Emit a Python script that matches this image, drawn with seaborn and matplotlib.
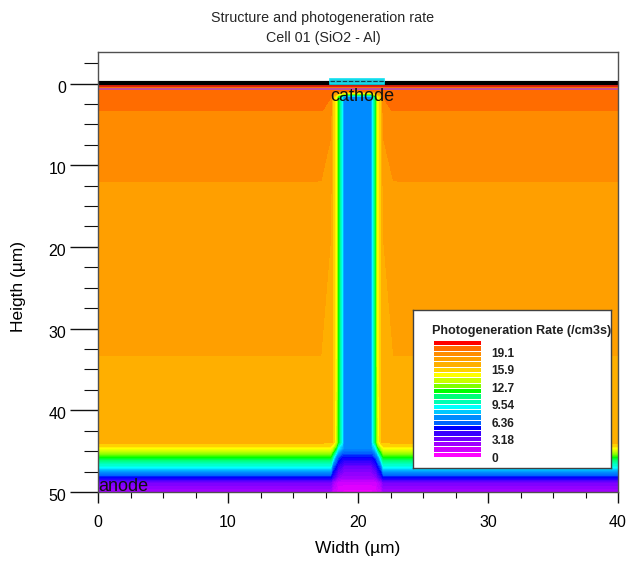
import numpy as np
import matplotlib
matplotlib.use("Agg")
from matplotlib import pyplot as plt
from matplotlib.colors import BoundaryNorm, LinearSegmentedColormap, ListedColormap
from matplotlib.patches import Rectangle
from matplotlib.transforms import ScaledTranslation
import seaborn as sns

# Photogeneration rate, one list per width position
heights = [0.0, 0.9, 1.6, 3.3, 3.4, 11.9, 12.0, 18.0, 33.3, 33.4, 43.9, 44.6, 45.7, 46.9, 48.2, 48.8, 50.0]
rate_far = [21.2, 21.2, 21.2, 21.2, 20.1, 20.1, 19.1, 19.1, 19.1, 18.0, 18.0, 15.9, 12.7, 9.54, 5.3, 3.0, 1.9]
rate_shoulder = [21.2, 21.2, 20.7, 20.1, 20.1, 18.8, 18.8, 18.6, 17.6, 17.6, 17.6, 15.9, 12.7, 9.54, 5.3, 3.0, 1.9]
rate_orange = [21.2, 21.2, 17.5, 17.5, 17.5, 17.5, 17.5, 17.5, 17.5, 17.5, 17.5, 14.8, 11.0, 6.5, 4.2, 2.1, 1.0]
rate_yellow = [21.2, 21.2, 15.9, 15.9, 15.9, 15.9, 15.9, 15.9, 15.9, 15.9, 15.0, 12.7, 7.4, 5.3, 3.18, 1.5, 1.0]
rate_green = [21.2, 21.2, 12.7, 12.7, 12.7, 12.7, 12.7, 12.7, 12.7, 12.7, 12.7, 9.54, 6.3, 4.2, 2.5, 1.06, 0.6]
rate_cyan = [21.2, 21.2, 9.54, 9.54, 9.54, 9.54, 9.54, 9.54, 9.54, 9.54, 9.54, 8.0, 5.3, 3.7, 2.1, 1.06, 0.5]
rate_core = [21.2, 21.2, 7.4, 7.4, 7.4, 7.4, 7.4, 7.4, 7.4, 7.4, 7.4, 7.4, 5.3, 3.18, 2.1, 1.06, 0.3]

widths = [0.0, 16.7, 17.9, 18.05, 18.3, 18.46, 18.77, 18.9, 21.05, 21.15, 21.4, 21.55, 21.8, 21.95, 23.2, 40.0]
columns = [rate_far, rate_far, rate_shoulder, rate_orange, rate_yellow, rate_green, rate_cyan, rate_core,
           rate_core, rate_cyan, rate_green, rate_yellow, rate_orange, rate_shoulder, rate_far, rate_far]

band_colors = ["#ff00ff", "#d000ff", "#a000ff", "#7000ff", "#3800ff", "#0000ff", "#0064ff", "#008cff",
               "#00c8ff", "#00ffff", "#00ffb4", "#00ff78", "#00ff00", "#80ff00", "#c8ff00", "#ffff00",
               "#ffd200", "#ffaf00", "#ff9f00", "#ff8c00", "#ff6e00", "#ff0000"]
band_step = 1.06
smooth_bands = 16  # below this band the field shades finer than the legend

legend_values = ["19.1", "15.9", "12.7", "9.54", "6.36", "3.18", "0"]
legend_rows = [2.4, 5.64, 8.9, 12.2, 15.6, 18.8, 22.0]

x_major = [0, 10, 20, 30, 40]
y_major = [0, 10, 20, 30, 40, 50]
x_minor = [2.5, 5, 7.5, 12.5, 15, 17.5, 22.5, 25, 27.5, 32.5, 35, 37.5]
y_minor = [-2.5, 2.5, 5, 7.5, 12.5, 15, 17.5, 22.5, 25, 27.5, 32.5, 35, 37.5, 42.5, 45, 47.5]

cathode_x = [17.85, 22.0]
cathode_y = [-0.6, 0.0]

W, H = 629, 567


def box(left, top, right, bottom):
    # pixel box to figure fractions
    return [left / W, 1 - bottom / H, (right - left) / W, (bottom - top) / H]


sns.set_style("white")
plt.rcParams["font.family"] = ["Liberation Sans", "DejaVu Sans"]

fig = plt.figure(figsize=(W / 100, H / 100), dpi=100)
ax = fig.add_axes(box(98, 52, 618, 492))

# Field: fine shading in the steep part, the legend's own bands in the orange plateaus
n_bands = len(band_colors)
levels = [(k / 3 - 0.5) * band_step for k in range(smooth_bands * 3 + 1)]
levels += [(k - 0.5) * band_step for k in range(smooth_bands + 1, n_bands + 1)]
ramp = LinearSegmentedColormap.from_list("ramp", band_colors, N=512)
centers = [(a + b) / 2 / (band_step * (n_bands - 1)) for a, b in zip(levels[:-1], levels[1:])]
field_cmap = ListedColormap([ramp(max(c, 0.0)) for c in centers])
field_norm = BoundaryNorm(levels, field_cmap.N)
field = np.array(columns).T
ax.contourf(widths, heights, field, levels=levels, cmap=field_cmap, norm=field_norm, antialiased=False)

# Oxide and contact strips along the surface
ax.axhline(0.65, color="#c050a0", lw=1.4)
ax.axhline(0.28, color="#e02010", lw=1.4)
ax.axhline(-0.05, color="black", lw=3.0)

# Cathode contact
ax.add_patch(Rectangle((cathode_x[0], cathode_y[0]), cathode_x[1] - cathode_x[0], cathode_y[1] - cathode_y[0],
                       fc="#20c8d8", ec="#10e0f0", lw=1.2, zorder=4))
ax.plot(cathode_x, [np.mean(cathode_y)] * 2, color="#104050", lw=0.8, ls=(0, (4, 1.5)), zorder=5)

ax.text(17.9, 1.6, "cathode", fontsize=13, va="center", ha="left", color="#101010", zorder=6)
ax.text(0.0, 49.3, "anode", fontsize=13, va="center", ha="left", color="#101010", zorder=6)

ax.set_xlim(0, 40)
ax.set_ylim(50, -3.86)
ax.set_xticks(x_major)
ax.set_yticks(y_major)
ax.set_xticks(x_minor, minor=True)
ax.set_yticks(y_minor, minor=True)
ax.tick_params(axis="x", which="major", bottom=True, length=8, width=1, color="#101010", labelcolor="black",
               labelsize=11.5, pad=8.5)
ax.tick_params(axis="x", which="minor", bottom=True, length=4.3, width=0.8, color="#101010")
ax.tick_params(axis="y", which="major", left=True, length=20, width=1, color="#101010", labelcolor="black",
               labelsize=11.5, pad=3)
ax.tick_params(axis="y", which="minor", left=True, length=10, width=0.8, color="#101010")
shift = ScaledTranslation(0, -3 / 100, fig.dpi_scale_trans)
for label in ax.get_yticklabels():
    label.set_transform(label.get_transform() + shift)
for spine in ax.spines.values():
    spine.set_color("#505050")
    spine.set_linewidth(1.0)

ax.set_xlabel("Width (µm)", fontsize=12.5, color="black", labelpad=8)
ax.set_ylabel("Heigth (µm)", fontsize=12.5, color="black")
ax.yaxis.set_label_coords((26 - 98) / 520, (492 - 287) / 440)
fig.text(323 / W, 1 - 28 / H, "Structure and photogeneration rate\nCell 01 (SiO2 - Al)", fontsize=10.3,
         ha="center", va="center", linespacing=1.5)

# Legend box
box_ax = fig.add_axes(box(413, 310, 611, 468), zorder=5)
box_ax.set_xticks([])
box_ax.set_yticks([])
box_ax.set_facecolor("white")
for spine in box_ax.spines.values():
    spine.set_color("#404040")
    spine.set_linewidth(1.0)
box_ax.text(19 / 198, 1 - 21 / 158, "Photogeneration Rate (/cm3s)", fontsize=9.1, fontweight="bold",
            transform=box_ax.transAxes, va="center", ha="left", color="#202020")

strip_ax = fig.add_axes(box(433, 340, 481, 457), zorder=6)
cmap = ListedColormap(band_colors)
norm = BoundaryNorm([(k - 0.5) * band_step for k in range(n_bands + 1)], cmap.N)
stripe_values = np.arange(n_bands)[::-1].reshape(-1, 1) * band_step
sns.heatmap(stripe_values, ax=strip_ax, cmap=cmap, norm=norm, cbar=False, linewidths=0.6, linecolor="white",
            xticklabels=False, yticklabels=False)
strip_ax.set_yticks(legend_rows, legend_values, rotation=0)
strip_ax.yaxis.tick_right()
strip_ax.tick_params(axis="y", length=0, pad=7.5, labelsize=8.6, labelcolor="#202020")
for label in strip_ax.get_yticklabels():
    label.set_fontweight("bold")
    label.set_horizontalalignment("left")

fig.savefig("out.png", dpi=100, facecolor="white")
plt.close()
